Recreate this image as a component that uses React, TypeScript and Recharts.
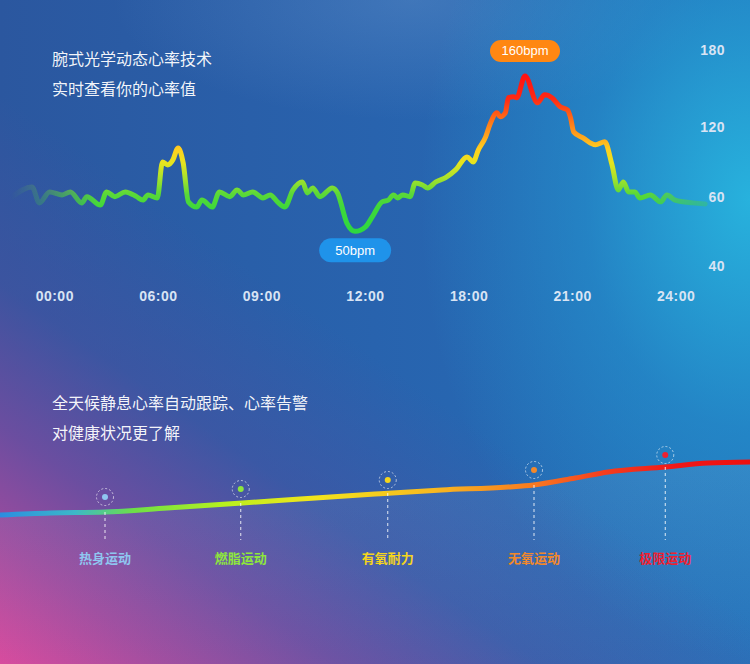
import React from 'react';
import { ComposedChart, Line, Area, Scatter, XAxis, YAxis, ReferenceDot, ReferenceLine } from 'recharts';

// top chart - heart rate through the day (x in slots between the time labels)
const TIME_LABELS = ['00:00', '06:00', '09:00', '12:00', '18:00', '21:00', '24:00'];
const BPM_TICKS = [40, 60, 120, 180];
const BPM_TICK_POS = [0, 1, 2, 3.105]; // the axis is not linear, ticks are spread evenly

const HR_SLOT = [
    -0.41, -0.22, -0.15, -0.05, 0.07, 0.15, 0.26, 0.31, 0.44, 0.5, 0.58, 0.68, 0.79, 0.85, 0.9, 0.99,
    1.04, 1.09, 1.14, 1.19, 1.24, 1.29, 1.37, 1.42, 1.52, 1.59, 1.69, 1.76, 1.82, 1.91, 2.01, 2.08,
    2.15, 2.22, 2.3, 2.39, 2.44, 2.49, 2.56, 2.68, 2.73, 2.82, 2.9, 3.0, 3.07, 3.16, 3.22, 3.27,
    3.31, 3.36, 3.43, 3.48, 3.55, 3.6, 3.68, 3.77, 3.87, 3.98, 4.04, 4.09, 4.16, 4.2, 4.27, 4.3,
    4.35, 4.38, 4.43, 4.46, 4.54, 4.66, 4.73, 4.8, 4.88, 4.95, 4.98, 5.01, 5.1, 5.22, 5.31, 5.38,
    5.44, 5.49, 5.54, 5.6, 5.65, 5.75, 5.85, 5.91, 5.99, 6.16, 6.28,
];
const HR_BPM = [
    60, 68.4, 58.2, 64.1, 61.5, 64.1, 58.2, 60, 57.6, 64.1, 60, 64.1, 60, 59, 61.5, 59.6,
    90, 87.4, 91.7, 102, 89, 58.5, 57, 59, 57, 64.1, 60, 65.8, 61.5, 64.1, 59.6, 61.5,
    58.5, 57, 65.8, 72.7, 63.2, 67.5, 60, 67.5, 63.2, 52.4, 50, 51.3, 54.4, 58.5, 59, 61.5,
    59.6, 61.5, 60, 71.8, 70.1, 67.5, 72.7, 76.2, 83.1, 94.3, 90, 100.4, 111.6, 121.8, 131.2, 128.1,
    131.2, 143, 143.7, 143, 160, 139, 145.3, 143, 135.9, 133.5, 127.3, 115.9, 110.7, 104.7, 107.3, 87.4,
    65.8, 72.7, 64.1, 64.1, 59.6, 61.5, 58.5, 61.5, 59, 58.2, 57.9,
];

// bottom chart - training zones (x in % of width)
const CURVE_X = [0, 6.7, 14, 22.3, 32.3, 40, 50, 58.9, 67.7, 71.1, 76.7, 81.1, 88.7, 94.4, 100];
const CURVE_Y = [25, 27, 28, 32, 37, 41, 46, 50, 53, 55, 62, 68, 73, 77, 78];
const ZONE_NAMES = ['热身运动', '燃脂运动', '有氧耐力', '无氧运动', '极限运动'];
const ZONE_X = [14, 32.1, 51.7, 71.2, 88.7];
const ZONE_DOT = [43, 51, 60, 70, 85];
const ZONE_BASE = [28, 37, 47, 55, 73];
const ZONE_COLORS = ['#8fc6f0', '#8ee63c', '#f5d51c', '#f2882a', '#ee2030'];
const LABEL_LEVEL = -18;

const toPos = (v: number) => {
    for (let i = 1; i < BPM_TICKS.length; i++) {
        if (v <= BPM_TICKS[i] || i === BPM_TICKS.length - 1) {
            const t = (v - BPM_TICKS[i - 1]) / (BPM_TICKS[i] - BPM_TICKS[i - 1]);
            return BPM_TICK_POS[i - 1] + t * (BPM_TICK_POS[i] - BPM_TICK_POS[i - 1]);
        }
    }
    return 0;
};

const hrData = HR_SLOT.map((s, i) => ({ s, bpm: HR_BPM[i], pos: toPos(HR_BPM[i]) }));
const peak = hrData.reduce((a, b) => (b.bpm > a.bpm ? b : a));
const low = hrData.reduce((a, b) => (b.bpm < a.bpm ? b : a));

const curveData = CURVE_X.map((x, i) => ({ x, y: CURVE_Y[i] }));
const zoneDots = ZONE_X.map((x, i) => ({ x, y: ZONE_DOT[i], color: ZONE_COLORS[i] }));
const zoneLabels = ZONE_X.map((x, i) => ({ x, y: LABEL_LEVEL, name: ZONE_NAMES[i], color: ZONE_COLORS[i] }));

const LATIN = "'Liberation Sans', Arial, sans-serif";
const CJK = "'Noto Sans CJK SC', 'Noto Sans', sans-serif";
const TICK_COLOR = '#d9e4f4';

const TimeTick = ({ x, y, payload }: any) => (
    <text x={x} y={y + 21} textAnchor="middle" fill={TICK_COLOR} fontSize={14} fontWeight="bold" fontFamily={LATIN} letterSpacing={0.5}>
        {TIME_LABELS[payload.value]}
    </text>
);

const BpmTick = ({ x, y, payload }: any) => (
    <text x={x - 3} y={y + 5} textAnchor="end" fill={TICK_COLOR} fontSize={14} fontWeight="bold" fontFamily={LATIN} letterSpacing={0.5}>
        {BPM_TICKS[BPM_TICK_POS.indexOf(payload.value)]}
    </text>
);

const Badge = ({ cx, cy, text, fill, dy, w, h }: any) => (
    <g>
        <rect x={cx - w / 2} y={cy + dy - h / 2} width={w} height={h} rx={h / 2} fill={fill} />
        <text x={cx} y={cy + dy + 4.5} textAnchor="middle" fill="#fff" fontSize={13} fontFamily={LATIN}>
            {text}
        </text>
    </g>
);

const ZoneDot = ({ cx, cy, payload }: any) => (
    <g>
        <circle cx={cx} cy={cy} r={8.5} fill="none" stroke="rgba(255,255,255,0.6)" strokeWidth={1} strokeDasharray="2 2" />
        <circle cx={cx} cy={cy} r={3} fill={payload.color} />
    </g>
);

const ZoneLabel = ({ cx, cy, payload }: any) => (
    <text x={cx} y={cy + 5} textAnchor="middle" fill={payload.color} fontSize={13} fontWeight="bold" fontFamily={CJK}>
        {payload.name}
    </text>
);

const textStyle: React.CSSProperties = {
    position: 'absolute',
    left: 52,
    color: 'rgba(255,255,255,0.95)',
    fontSize: 16,
    lineHeight: '24px',
    fontFamily: CJK,
    whiteSpace: 'nowrap',
};

export default function App() {
    return (
        <div
            style={{
                position: 'absolute',
                left: 0,
                top: 0,
                width: 750,
                height: 664,
                overflow: 'hidden',
                background: [
                    'linear-gradient(35deg, rgba(216,72,156,1) 0%, rgba(165,74,158,0.95) 10%, rgba(118,76,160,0.85) 20%, rgba(80,80,160,0.45) 32%, rgba(60,82,160,0) 48%)',
                    'radial-gradient(ellipse 330px 460px at 100% 30%, rgba(40,185,225,0.9) 0%, rgba(35,160,215,0.45) 50%, rgba(35,140,210,0) 100%)',
                    'radial-gradient(ellipse 300px 120px at 55% 0%, rgba(120,160,210,0.3) 0%, rgba(120,160,210,0) 100%)',
                    'linear-gradient(90deg, #2b579f 0%, #2863ae 50%, #2370b9 100%)',
                ].join(','),
            }}
        >
            <div style={{ ...textStyle, top: 46 }}>腕式光学动态心率技术</div>
            <div style={{ ...textStyle, top: 76 }}>实时查看你的心率值</div>

            <div style={{ position: 'absolute', left: 0, top: 0 }}>
                <ComposedChart width={750} height={320} data={hrData} margin={{ top: 16, right: 0, left: 3, bottom: 10 }}>
                    <defs>
                        <linearGradient id="hrGrad" x1="0" y1="0" x2="0" y2="1">
                            <stop offset="0%" stopColor="#ff1212" />
                            <stop offset="15%" stopColor="#ff2a14" />
                            <stop offset="27%" stopColor="#ff6a18" />
                            <stop offset="37%" stopColor="#ff9c1c" />
                            <stop offset="47%" stopColor="#ffcf20" />
                            <stop offset="56%" stopColor="#e6e41e" />
                            <stop offset="66%" stopColor="#a6e22c" />
                            <stop offset="76%" stopColor="#5ad838" />
                            <stop offset="85%" stopColor="#3ed83a" />
                            <stop offset="100%" stopColor="#2ed840" />
                        </linearGradient>
                        <linearGradient id="hrFadeGrad" x1="0" y1="0" x2="1" y2="0">
                            <stop offset="1.5%" stopColor="#fff" stopOpacity={0} />
                            <stop offset="5.5%" stopColor="#fff" stopOpacity={0.25} />
                            <stop offset="13%" stopColor="#fff" stopOpacity={1} />
                            <stop offset="86%" stopColor="#fff" stopOpacity={1} />
                            <stop offset="95%" stopColor="#fff" stopOpacity={0.25} />
                        </linearGradient>
                        <mask id="hrFade" maskUnits="userSpaceOnUse" x="0" y="0" width="750" height="320">
                            <rect x="0" y="0" width="750" height="320" fill="url(#hrFadeGrad)" />
                        </mask>
                    </defs>
                    <XAxis
                        dataKey="s"
                        type="number"
                        domain={[-0.5, 6.5]}
                        ticks={[0, 1, 2, 3, 4, 5, 6]}
                        interval={0}
                        axisLine={false}
                        tickLine={false}
                        tickSize={0}
                        tickMargin={0}
                        tick={<TimeTick />}
                    />
                    <YAxis
                        orientation="right"
                        type="number"
                        width={22}
                        domain={[-0.2, 3.6]}
                        ticks={BPM_TICK_POS}
                        interval={0}
                        axisLine={false}
                        tickLine={false}
                        tickSize={0}
                        tickMargin={0}
                        tick={<BpmTick />}
                    />
                    <Line
                        type="monotone"
                        dataKey="pos"
                        stroke="url(#hrGrad)"
                        strokeWidth={5}
                        strokeLinecap="round"
                        strokeLinejoin="round"
                        dot={false}
                        activeDot={false}
                        mask="url(#hrFade)"
                        isAnimationActive={false}
                    />
                    <ReferenceDot
                        x={peak.s}
                        y={peak.pos}
                        r={0}
                        shape={(p: any) => <Badge cx={p.cx} cy={p.cy} dy={-25} w={70} h={22} fill="#ff8712" text={`${peak.bpm}bpm`} />}
                    />
                    <ReferenceDot
                        x={low.s}
                        y={low.pos}
                        r={0}
                        shape={(p: any) => <Badge cx={p.cx} cy={p.cy} dy={19} w={72} h={24} fill="#1f93ea" text={`${low.bpm}bpm`} />}
                    />
                </ComposedChart>
            </div>

            <div style={{ ...textStyle, top: 390 }}>全天候静息心率自动跟踪、心率告警</div>
            <div style={{ ...textStyle, top: 420 }}>对健康状况更了解</div>

            <div style={{ position: 'absolute', left: 0, top: 430 }}>
                <ComposedChart width={750} height={234} data={curveData} margin={{ top: 10, right: 0, left: 0, bottom: 0 }}>
                    <defs>
                        <linearGradient id="zoneGrad" x1="0" y1="0" x2="1" y2="0">
                            <stop offset="0%" stopColor="#2b8de0" />
                            <stop offset="10%" stopColor="#3cb8c8" />
                            <stop offset="18%" stopColor="#6ee046" />
                            <stop offset="30%" stopColor="#b8f01e" />
                            <stop offset="42%" stopColor="#f2e41c" />
                            <stop offset="58%" stopColor="#f8b820" />
                            <stop offset="71%" stopColor="#f87a20" />
                            <stop offset="80%" stopColor="#f5401e" />
                            <stop offset="90%" stopColor="#f01818" />
                            <stop offset="100%" stopColor="#ee1010" />
                        </linearGradient>
                        <linearGradient id="zoneFill" x1="0" y1="0" x2="0" y2="1">
                            <stop offset="0%" stopColor="#c8c8e0" stopOpacity={0.16} />
                            <stop offset="100%" stopColor="#c8c8e0" stopOpacity={0.05} />
                        </linearGradient>
                    </defs>
                    <XAxis dataKey="x" type="number" domain={[0, 100]} hide />
                    <YAxis type="number" domain={[-124, 100]} hide />
                    <Area type="monotone" dataKey="y" stroke="none" fill="url(#zoneFill)" baseValue="dataMin" isAnimationActive={false} />
                    <Line
                        type="monotone"
                        dataKey="y"
                        stroke="url(#zoneGrad)"
                        strokeWidth={5}
                        dot={false}
                        activeDot={false}
                        isAnimationActive={false}
                    />
                    {ZONE_X.map((x, i) => (
                        <ReferenceLine
                            key={x}
                            segment={[{ x, y: ZONE_BASE[i] }, { x, y: 0 }]}
                            stroke="rgba(255,255,255,0.85)"
                            strokeDasharray="3 3"
                        />
                    ))}
                    <Scatter data={zoneDots} dataKey="y" shape={<ZoneDot />} isAnimationActive={false} />
                    <Scatter data={zoneLabels} dataKey="y" shape={<ZoneLabel />} isAnimationActive={false} />
                </ComposedChart>
            </div>
        </div>
    );
}
